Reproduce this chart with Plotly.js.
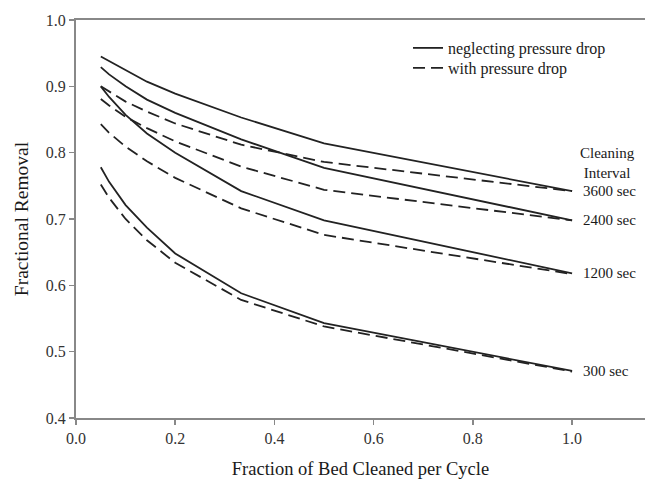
<!DOCTYPE html>
<html>
<head>
<meta charset="utf-8">
<script src="https://cdn.plot.ly/plotly-3.0.1.min.js"></script>
<style>html,body{margin:0;padding:0;background:#fff;}#chart{width:645px;height:481px;}</style>
</head>
<body>
<div id="chart"></div>
<script>
// Fraction of bed cleaned per cycle
const fraction = [0.05, 0.0667, 0.1, 0.143, 0.2, 0.333, 0.5, 1.0];
const intervals = ["3600 sec", "2400 sec", "1200 sec", "300 sec"];
// neglecting pressure drop (solid)
const neglect3600 = [0.945, 0.938, 0.924, 0.907, 0.889, 0.853, 0.814, 0.742];
const neglect2400 = [0.929, 0.918, 0.900, 0.880, 0.860, 0.820, 0.777, 0.698];
const neglect1200 = [0.900, 0.884, 0.857, 0.829, 0.800, 0.742, 0.698, 0.618];
const neglect300  = [0.778, 0.756, 0.721, 0.687, 0.648, 0.588, 0.543, 0.471];
// with pressure drop (dashed)
const with3600 = [0.900, 0.892, 0.877, 0.862, 0.844, 0.812, 0.786, 0.742];
const with2400 = [0.881, 0.871, 0.854, 0.837, 0.817, 0.779, 0.744, 0.698];
const with1200 = [0.843, 0.830, 0.809, 0.787, 0.762, 0.716, 0.676, 0.617];
const with300  = [0.752, 0.732, 0.700, 0.668, 0.634, 0.578, 0.538, 0.470];

const neglect = [neglect3600, neglect2400, neglect1200, neglect300];
const withDrop = [with3600, with2400, with1200, with300];

const lineColor = '#222';
const traces = [];
neglect.forEach((ys, i) => {
  traces.push({x: fraction, y: ys, type: 'scatter', mode: 'lines',
    name: 'neglecting pressure drop', legend: 'legend', showlegend: i === 0,
    line: {color: lineColor, width: 1.8}});
});
withDrop.forEach((ys, i) => {
  traces.push({x: fraction, y: ys, type: 'scatter', mode: 'lines',
    name: 'with pressure drop', legend: 'legend2', showlegend: i === 0,
    line: {color: lineColor, width: 1.8, dash: '12px,6px'}});
});

const serif = 'Liberation Serif, Times New Roman, serif';
const annotations = intervals.map((lab, i) => ({
  x: fraction[fraction.length - 1], y: neglect[i][neglect[i].length - 1],
  xref: 'x', yref: 'y', text: lab, showarrow: false,
  xanchor: 'left', yanchor: 'middle', xshift: 9,
  font: {family: serif, size: 15, color: '#1a1a1a'}
}));
annotations.push({x: 1.0, y: 0.785, xref: 'x', yref: 'y', text: 'Cleaning<br>Interval',
  showarrow: false, xanchor: 'left', yanchor: 'middle', xshift: 6, align: 'center',
  font: {family: serif, size: 15, color: '#1a1a1a'}});

const legendStyle = (y) => ({x: 0.5835, y: y, xanchor: 'left', yanchor: 'top',
  bgcolor: 'rgba(0,0,0,0)', font: {family: serif, size: 16, color: '#1a1a1a'},
  tracegroupgap: 0, itemwidth: 30});

const layout = {
  width: 645, height: 481,
  margin: {l: 76, r: 0, t: 20, b: 63},
  paper_bgcolor: '#fff', plot_bgcolor: '#fff',
  showlegend: true,
  legend: legendStyle(0.9724),
  legend2: legendStyle(0.922),
  xaxis: {range: [0, 1.147], tickvals: [0, 0.2, 0.4, 0.6, 0.8, 1.0],
    ticktext: ['0.0', '0.2', '0.4', '0.6', '0.8', '1.0'],
    showgrid: false, zeroline: false, showline: true, mirror: true,
    linecolor: '#888', linewidth: 2, ticks: 'outside', ticklen: 5, tickcolor: '#888', tickwidth: 1.5,
    tickfont: {family: serif, size: 16, color: '#333'},
    title: {text: 'Fraction of Bed Cleaned per Cycle', standoff: 16,
      font: {family: serif, size: 18.5, color: '#1a1a1a'}}},
  yaxis: {range: [0.4, 1.0], tickvals: [0.4, 0.5, 0.6, 0.7, 0.8, 0.9, 1.0],
    ticktext: ['0.4', '0.5', '0.6', '0.7', '0.8', '0.9', '1.0'],
    showgrid: false, zeroline: false, showline: true, mirror: false,
    linecolor: '#888', linewidth: 2, ticks: 'outside', ticklen: 5, tickcolor: '#888', tickwidth: 1.5,
    tickfont: {family: serif, size: 16, color: '#333'},
    title: {text: 'Fractional Removal', standoff: 12,
      font: {family: serif, size: 19.5, color: '#1a1a1a'}}},
  annotations: annotations
};
Plotly.newPlot('chart', traces, layout, {displayModeBar: false, staticPlot: true});
</script>
</body>
</html>
